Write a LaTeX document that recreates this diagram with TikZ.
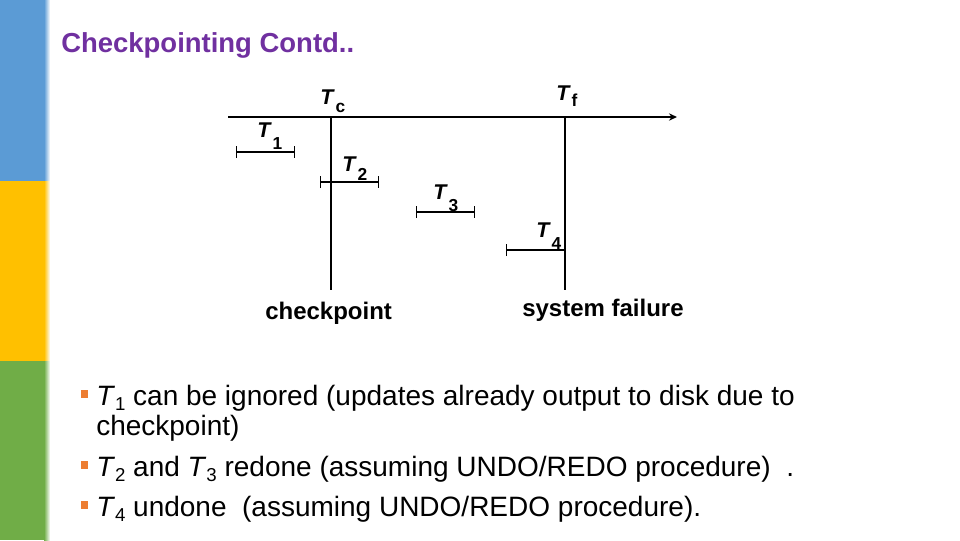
\documentclass[tikz,border=0pt]{standalone}
\usepackage{fontspec}
\setmainfont{Liberation Sans}
\usetikzlibrary{arrows.meta}
\definecolor{barblue}{HTML}{5B9BD5}
\definecolor{baryellow}{HTML}{FFC000}
\definecolor{bargreen}{HTML}{70AD47}
\definecolor{titlepurple}{HTML}{7030A0}
\definecolor{bulorange}{HTML}{ED7D31}
% diagram label: bold italic T with lowered bold subscript
\newcommand{\tlab}[2]{\textbf{\textit{T}}\kern0.6pt\raisebox{-#2}{\fontsize{13pt}{14pt}\selectfont\textbf{#1}}}
% bullet text subscript
\newcommand{\bsub}[1]{\textit{T}\raisebox{-4pt}{\fontsize{14pt}{14pt}\selectfont #1}}
\begin{document}
\begin{tikzpicture}[x=0.75pt,y=-0.75pt,
  lbl/.style={anchor=base west,inner sep=0pt,font=\fontsize{16pt}{18pt}\selectfont},
  caption/.style={anchor=base west,inner sep=0pt,font=\bfseries\fontsize{18pt}{21pt}\selectfont},
  btext/.style={anchor=base west,inner sep=0pt,font=\fontsize{21pt}{25pt}\selectfont},
  bulletsq/.style={fill=bulorange,draw=none,minimum size=5.5pt,inner sep=0pt},
  interval/.style={line width=0.9pt,{Bar[width=9pt]}-{Bar[width=9pt]}},
  halfinterval/.style={line width=0.9pt,{Bar[width=9pt]}-},
  vline/.style={line width=0.9pt},
  timeline/.style={line width=1.8pt,-{Stealth[length=6pt,width=5.5pt]}}]
\useasboundingbox (0,0) rectangle (960,540);
\fill[white] (0,0) rectangle (960,540);
% side bars
\fill[barblue] (0,0) rectangle (44,181);
\shade[left color=barblue,right color=white] (44,0) rectangle (50,181);
\fill[baryellow] (0,181) rectangle (44,361);
\shade[left color=baryellow,right color=white] (44,181) rectangle (50,361);
\fill[bargreen] (0,361) rectangle (44,540);
\shade[left color=bargreen,right color=white] (44,361) rectangle (50,540);
% title
\node[anchor=base west,inner sep=0pt,text=titlepurple,font=\bfseries\fontsize{20.6pt}{24pt}\selectfont] (title) at (61,52) {Checkpointing Contd..};
% timeline
\coordinate (tlstart) at (228,117);
\coordinate (tlend) at (677,117);
\draw[timeline] (tlstart) -- (tlend);
% checkpoint and failure lines
\coordinate (ctop) at (331,117);
\coordinate (cbot) at (331,290);
\coordinate (ftop) at (565,117);
\coordinate (fbot) at (565,290);
\draw[vline] (ctop) -- (cbot);
\draw[vline] (ftop) -- (fbot);
% intervals
\coordinate (t1a) at (236,152); \coordinate (t1b) at (295,152);
\coordinate (t2a) at (320,182); \coordinate (t2b) at (379,182);
\coordinate (t3a) at (416,212); \coordinate (t3b) at (475,212);
\coordinate (t4a) at (506,250); \coordinate (t4b) at (565,250);
\draw[interval] (t1a) -- (t1b);
\draw[interval] (t2a) -- (t2b);
\draw[interval] (t3a) -- (t3b);
\draw[halfinterval] (t4a) -- (t4b);
% labels
\node[lbl] (lc) at (320,104) {\tlab{c}{6.5pt}};
\node[lbl] (lf) at (556,100) {\tlab{f}{5pt}};
\node[lbl] (l1) at (257,137) {\tlab{1}{9pt}};
\node[lbl] (l2) at (342,171) {\tlab{2}{7pt}};
\node[lbl] (l3) at (433,199) {\tlab{3}{9pt}};
\node[lbl] (l4) at (536,237) {\tlab{4}{9pt}};
% captions
\node[caption] (cp) at (265,319) {checkpoint};
\node[caption] (sf) at (522,316) {system failure};
% bullets
\node[bulletsq] (b1) at (84.5,394) {};
\node[bulletsq] (b2) at (84.5,465) {};
\node[bulletsq] (b3) at (84.5,505) {};
\node[btext] (x1) at (96,405) {\bsub{1} can be ignored (updates already output to disk due to};
\node[btext] (x1b) at (96,435) {checkpoint)};
\node[btext] (x2) at (96,476) {\bsub{2} and \bsub{3} redone (assuming UNDO/REDO procedure)\ \ .};
\node[btext] (x3) at (96,516) {\bsub{4} undone\ \ (assuming UNDO/REDO procedure).};
\end{tikzpicture}
\end{document}
